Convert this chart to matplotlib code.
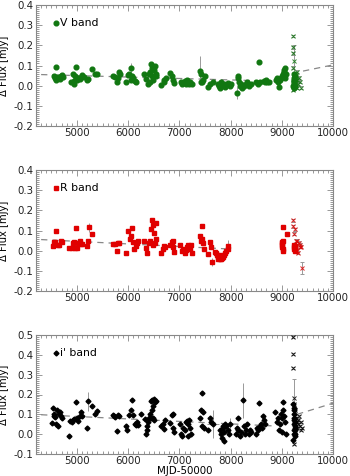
import numpy as np
import matplotlib
matplotlib.use("Agg")
import matplotlib.pyplot as plt
from matplotlib.ticker import MultipleLocator

# ---------------- data ----------------
# V band (filled circles)
v_x = [4550,4570,4600,4620,4640,4660,4680,4700,4600,4720,
       4880,4920,4950,4970,4990,5000,5030,5050,4940,
       5100,5130,5200,5220,5290,5350,5400,
       5700,5750,5780,5800,5830,5850,5950,
       6000,6020,6050,6080,6100,6130,6150,6050,
       6300,6350,6380,6400,6420,6450,6470,6500,6520,6540,6480,6550,6420,6460,
       6650,6700,6730,6700,6820,6850,6880,6900,
       7030,7050,7100,7130,7150,7180,7200,7250,7120,
       7400,7420,7450,7470,7500,7430,7560,7600,7650,
       7750,7780,7800,7820,7850,7880,7900,7950,7980,8000,
       8120,8140,8150,8160,8180,8200,8220,8260,8300,8330,8350,8400,
       8500,8530,8560,8580,8650,8680,8700,8720,8750,
       8880,8900,8920,8950,8960,8980,9000,9020,9040,9060,9050,9070,9080,
       9225,9230,9235,9240,9245,9250,9255,9232,9238,9248]
v_y = [0.05,0.04,0.095,0.045,0.04,0.035,0.05,0.055,0.03,0.045,
       0.02,0.06,0.025,0.05,0.095,0.03,0.04,0.035,0.01,
       0.055,0.045,0.03,0.035,0.085,0.06,0.06,
       0.05,0.045,0.02,0.04,0.07,0.06,0.02,
       0.055,0.06,0.09,0.05,0.04,0.025,0.02,0.03,
       0.06,0.035,0.01,0.06,0.07,0.105,0.09,0.08,0.10,0.06,0.03,0.05,0.02,0.05,
       0.005,0.02,0.04,0.03,0.065,0.05,0.03,0.015,
       0.02,0.01,0.025,0.015,0.03,0.01,0.02,0.01,0.01,
       0.075,0.06,0.02,0.03,0.05,0.02,-0.005,0.01,0.02,
       0.01,0.0,-0.01,0.02,0.005,0.01,-0.005,0.015,0.0,0.01,
       -0.035,0.05,0.04,0.02,0.0,0.01,-0.01,0.0,0.01,0.02,0.0,0.01,
       0.02,0.01,0.115,0.02,0.025,0.02,0.03,0.02,0.02,
       0.03,0.04,0.02,-0.005,0.03,0.04,0.05,0.06,0.08,0.09,0.07,0.04,0.06,
       0.0,0.02,0.04,0.01,0.03,0.05,0.0,0.06,-0.01,0.025]
v_err = [0.005]*len(v_x)
v_err[v_x.index(7400)] = 0.07
v_err[v_x.index(8120)] = 0.03
v_err[v_x.index(6050)] = 0.02
# V band (crosses)
vx_x = [9210,9215,9220,9230,9210,9220,9240,9260,9280,9300,9320,9350,9380,9270,9300,9230,9250,9330,9260,9290]
vx_y = [0.245,0.19,0.16,0.12,-0.02,0.09,0.02,0.01,0.03,0.03,0.01,0.02,-0.01,0.05,0.07,0.04,0.06,0.04,0.0,-0.01]
vx_err = [0.006]*len(vx_x)
vx_err[3] = 0.08
v_fit_x = [[4300, 8900], [9200, 10000]]
v_fit_y = [[0.055, 0.022], [0.061, 0.103]]

# R band (squares)
r_x = [4530,4550,4570,4600,4620,4650,4680,4700,
       4850,4900,4920,4950,4970,4980,5000,5020,5050,5080,5100,
       5200,5220,5240,5300,
       5700,5750,5780,5800,5830,5950,
       6000,6030,6050,6070,6100,6120,6150,6180,6200,
       6300,6350,6370,6400,6430,6450,6470,6490,6500,6520,6540,6550,6480,
       6650,6680,6700,6720,6820,6850,6870,6880,6900,
       7020,7050,7080,7100,7120,7140,7160,7180,7200,7220,7250,
       7400,7420,7440,7450,7470,7480,7550,7600,7620,7640,
       7700,7720,7740,7760,7780,7800,7820,7840,7860,7880,7900,7920,7940,7950,7800,7830,7760,
       9000,9005,9010,9015,9020,9025,9030,9010,9100,
       9235,9240,9245,9250,9255,9260]
r_y = [0.025,0.045,0.045,0.10,0.03,0.03,0.05,0.045,
       0.015,0.015,0.04,0.045,0.015,0.11,0.015,0.04,0.05,0.035,0.035,
       0.025,0.05,0.115,0.085,
       0.035,0.035,0.0,0.04,0.04,-0.01,
       0.10,0.06,0.075,0.11,0.045,0.01,0.025,0.04,0.05,
       0.05,0.015,-0.01,0.04,0.05,0.105,0.15,0.125,0.09,0.04,0.06,0.135,0.03,
       -0.01,0.01,0.025,0.02,0.03,0.045,0.05,0.02,-0.005,
       0.03,0.0,0.01,-0.01,0.005,0.02,0.03,0.02,0.01,0.03,-0.01,
       0.075,0.05,0.12,0.06,0.04,0.01,-0.015,0.045,0.02,-0.055,
       -0.005,-0.01,-0.02,-0.03,-0.035,-0.04,-0.04,-0.035,-0.03,-0.02,-0.01,0.0,0.01,0.025,-0.02,-0.025,-0.04,
       0.02,0.03,0.04,0.05,0.0,0.115,0.01,0.045,0.085,
       0.01,0.02,0.03,0.0,0.015,0.025]
r_err = [0.005]*len(r_x)
r_err[r_x.index(5240)] = 0.02
r_err[r_x.index(7640)] = 0.02
r_err[r_x.index(7950)] = 0.03
# R band (crosses)
rx_x = [9210,9220,9240,9260,9280,9300,9330,9350,9280,9300,9320,9360,9250,9380,9400]
rx_y = [0.15,0.12,0.085,0.105,0.05,0.05,0.04,0.03,0.02,0.0,-0.01,0.02,0.02,0.02,-0.085]
rx_err = [0.006]*len(rx_x)
rx_err[-1] = 0.03
r_fit_x = [[4300, 8000]]
r_fit_y = [[0.055, 0.008]]

# i' band (diamonds)
i_x = [4520,4540,4560,4580,4600,4620,4640,4660,4680,4700,4550,4610,
       4850,4870,4900,4920,4950,4980,5000,5020,5050,5080,5100,
       5200,5220,5300,5350,5400,
       5700,5720,5750,5780,5800,5830,5950,5970,
       6020,6050,6070,6100,6130,6150,6170,6200,6250,
       6330,6350,6360,6370,6380,6400,6420,6450,6470,6490,6510,6530,6550,6480,6500,6440,6460,
       6650,6680,6700,6720,6820,6850,6870,6880,6900,
       7010,7030,7050,7080,7100,7130,7150,7170,7190,7210,7230,7160,
       7400,7420,7440,7460,7480,7450,7550,7600,7620,7650,
       7800,7820,7840,7860,7880,7900,7920,7940,7960,7980,7850,7870,
       8100,8120,8140,8150,8180,8200,8240,8260,8280,8300,8320,8350,8380,8400,
       8500,8520,8540,8560,8580,8600,8620,8640,8660,8680,
       8870,8900,8920,8940,8960,8980,9000,9020,9030,9050,9070,9090,9000,
       9225,9228,9232,9235,9238,9242,9245,9248,9252,9255,9258,9262,9230,9240,9250,9265]
i_y = [0.055,0.13,0.09,0.085,0.05,0.04,0.10,0.11,0.09,0.08,0.10,0.12,
       -0.01,0.065,0.06,0.07,0.075,0.16,0.08,0.065,0.09,0.11,0.09,
       0.03,0.165,0.14,0.10,0.115,
       0.095,0.09,0.085,0.015,0.095,0.09,0.04,0.02,
       0.095,0.12,0.17,0.095,0.05,0.045,0.06,0.045,0.10,
       0.075,0.0,0.02,0.04,0.06,0.08,0.10,0.165,0.17,0.14,0.175,0.16,0.165,0.08,0.07,0.08,0.12,
       0.04,0.05,0.025,0.07,0.055,0.095,0.10,0.03,0.01,
       0.05,0.0,-0.01,0.03,0.02,0.06,0.065,0.05,0.07,0.03,0.0,-0.01,
       0.08,0.12,0.21,0.11,0.03,0.04,0.02,0.08,0.06,0.05,
       0.02,0.0,-0.02,0.03,0.01,0.05,0.04,0.02,0.0,0.05,0.04,-0.035,
       0.0,0.03,0.08,0.02,-0.01,0.01,0.17,0.04,0.0,0.02,0.05,0.0,0.02,0.01,
       0.0,0.03,0.02,0.155,0.04,0.05,0.03,0.09,0.07,0.05,
       0.11,0.06,0.08,0.02,0.05,0.10,0.08,0.12,0.16,0.09,0.06,0.0,0.01,
       -0.03,0.15,0.12,0.0,0.05,0.08,0.02,0.10,-0.01,0.06,0.03,0.04,0.13,0.07,0.0,0.02]
i_err = [0.005]*len(i_x)
i_err[i_x.index(5220)] = 0.05
i_err[i_x.index(7650)] = 0.07
i_err[i_x.index(8240)] = 0.09
i_err[i_x.index(7980)] = 0.03
i_xerr = [0]*len(i_x)
i_xerr[i_x.index(7650)] = 120
# i' band (asterisks)
ix_x = [9215,9220,9225,9230,9240,9250,9260,9280,9300,9320,9350,9380,9400,9260,9290,9310,9340,9370,9235]
ix_y = [0.49,0.405,0.335,0.18,0.15,0.12,0.09,0.08,0.06,0.05,0.04,0.02,0.03,0.0,0.03,0.07,0.09,0.06,-0.05]
ix_err = [0.006]*len(ix_x)
ix_err[3] = 0.1
i_fit_x = [[4300, 8800], [9300, 10000]]
i_fit_y = [[0.098, 0.042], [0.1, 0.156]]

# ---------------- plot ----------------
W, H = 350, 476
fig = plt.figure(figsize=(W/100, H/100), dpi=100)
plt.rcParams['font.family'] = ['DejaVu Sans']

frame_col = '#888888'
fs = 7.4

def px_axes(top, bottom, left=36, right=333):
    return fig.add_axes([left/W, 1-bottom/H, (right-left)/W, (bottom-top)/H])

def style(ax, ylo, yhi, xlabel=False):
    ax.set_xlim(4200, 10000)
    ax.set_ylim(ylo, yhi)
    ax.xaxis.set_major_locator(MultipleLocator(1000))
    ax.xaxis.set_minor_locator(MultipleLocator(100))
    ax.yaxis.set_major_locator(MultipleLocator(0.1))
    ax.yaxis.set_minor_locator(MultipleLocator(0.01))
    ax.tick_params(which='both', direction='in', top=True, right=True,
                   color=frame_col, labelsize=fs, labelcolor='#222222', width=0.6)
    ax.tick_params(axis='x', pad=1.5)
    ax.tick_params(axis='y', pad=2)
    ax.tick_params(which='major', length=4.5)
    ax.tick_params(which='minor', length=2.2)
    for s in ax.spines.values():
        s.set_color(frame_col)
        s.set_linewidth(0.8)
    ax.set_xticks([5000, 6000, 7000, 8000, 9000, 10000])
    ax.set_xticklabels(['5000', '6000', '7000', '8000', '9000', '10000'])
    ax.set_yticklabels([f'{t:.1f}' for t in ax.get_yticks()])
    ax.set_ylabel('Δ Flux [mJy]', fontsize=fs - 0.2, labelpad=3)
    if xlabel:
        ax.set_xlabel('MJD-50000', fontsize=fs, labelpad=0)

def panel(ax, x, y, err, xc, yc, errc, fx, fy, col, mk, ms, label, xerr=None):
    ax.errorbar(x, y, yerr=err, xerr=xerr, fmt='none', ecolor='#999999', elinewidth=0.7, zorder=1)
    ax.errorbar(xc, yc, yerr=errc, fmt='none', ecolor='#999999', elinewidth=0.7,
                capsize=1.5, capthick=0.7, zorder=1)
    for a, b in zip(fx, fy):
        ax.plot(a, b, ls=(0, (5, 4)), color='#888888', lw=0.9, zorder=2)
    ax.plot(xc, yc, ls='none', marker='x', ms=3.4, mew=0.7, color=col, zorder=3, alpha=0.85)
    ax.plot(x, y, ls='none', marker=mk, ms=ms, color=col, mec=col, zorder=4)
    ax.plot([0.068], [0.85], transform=ax.transAxes, ls='none', marker=mk, ms=ms, color=col)
    ax.text(0.08, 0.85, label, transform=ax.transAxes, fontsize=fs + 0.4, va='center', ha='left')

ax1 = px_axes(5, 126)
panel(ax1, v_x, v_y, v_err, vx_x, vx_y, vx_err, v_fit_x, v_fit_y, '#117711', 'o', 3.4, 'V band')
style(ax1, -0.2, 0.4)

ax2 = px_axes(170, 291)
panel(ax2, r_x, r_y, r_err, rx_x, rx_y, rx_err, r_fit_x, r_fit_y, '#e00000', 's', 2.8, 'R band')
style(ax2, -0.2, 0.4)

ax3 = px_axes(335, 454)
panel(ax3, i_x, i_y, i_err, ix_x, ix_y, ix_err, i_fit_x, i_fit_y, '#000000', 'D', 2.5, "i' band", xerr=i_xerr)
style(ax3, -0.1, 0.5, xlabel=True)

fig.savefig('out.png', dpi=100)
